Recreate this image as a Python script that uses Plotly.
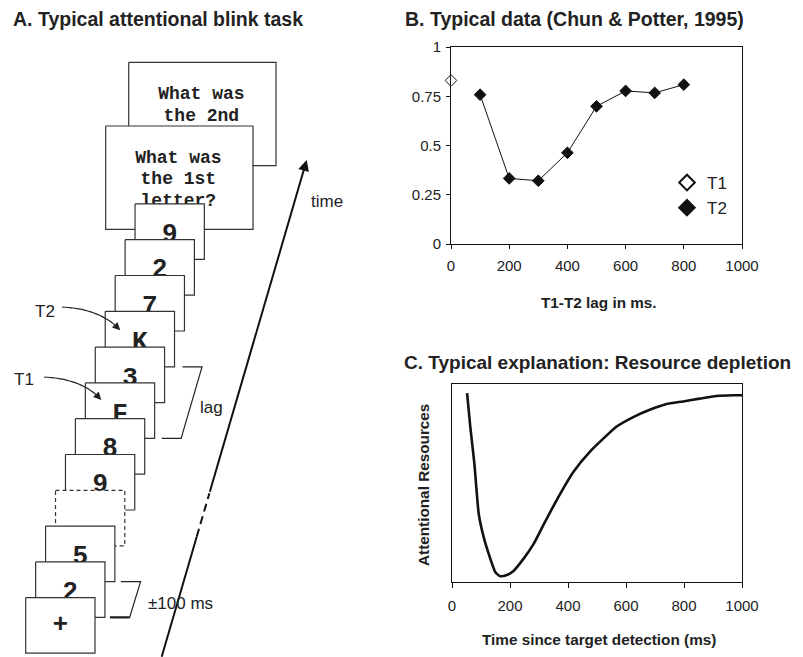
import plotly.graph_objects as go

# ---------------- data ----------------
# Panel A: RSVP stream (bottom/first -> top/last)
FRAME_LABELS = ["+", "2", "5", "", "9", "8", "F", "3", "K", "7", "2", "9"]
QUESTION_1 = ["What was", "the 1st", "letter?"]
QUESTION_2 = ["What was", "the 2nd"]
T1_INDEX = 6
T2_INDEX = 8
BLANK_INDEX = 3

# Panel B: Chun & Potter (1995)
T1_LAG = [0]
T1_ACC = [0.83]
T2_LAG = [100, 200, 300, 400, 500, 600, 700, 800]
T2_ACC = [0.758, 0.333, 0.321, 0.463, 0.699, 0.777, 0.767, 0.809]
B_YTICKS = [0, 0.25, 0.5, 0.75, 1]
B_YTICKTEXT = ["0", "0.25", "0.5", "0.75", "1"]
X_TICKS = [0, 200, 400, 600, 800, 1000]

# Panel C: resource depletion curve
C_TIME = [52, 63, 77, 92, 109, 130, 149, 166, 189, 212, 247, 281, 315, 361,
          419, 476, 568, 625, 682, 740, 797, 854, 912, 969, 1000]
C_RES = [0.954, 0.785, 0.600, 0.346, 0.228, 0.127, 0.051, 0.029, 0.035, 0.056,
         0.118, 0.191, 0.287, 0.414, 0.557, 0.659, 0.785, 0.833, 0.870, 0.899,
         0.912, 0.926, 0.939, 0.943, 0.943]

# ---------------- layout geometry / styles ----------------
VIEW_W, VIEW_H = 803, 657
OFF = 8                                # page body margin
W, H = VIEW_W - OFF, VIEW_H - OFF      # figure size so it fits the window
SANS = "Liberation Sans, Arial, sans-serif"
MONO = "Liberation Mono, Courier New, monospace"
INK = "#222222"
FRAME_LINE = "#333333"

F_X0, F_Y0 = 25.7, 597.7      # top-left of first frame (window px)
F_W, F_H = 69.3, 55.5
F_DX, F_DY = 9.94, -35.8
Q_BOXES = [(105.7, 126.0), (128.7, 62.3)]
Q_W, Q_H = 147.3, 103.3

AX = dict(xaxis="x3", yaxis="y3")


def frame_box(i):
    x0 = F_X0 + i * F_DX
    y0 = F_Y0 + i * F_DY
    return x0, y0, x0 + F_W, y0 + F_H


def rect_trace(x0, y0, x1, y1, dash="solid"):
    return go.Scatter(x=[x0, x1, x1, x0, x0], y=[y0, y0, y1, y1, y0],
                      mode="lines", fill="toself", fillcolor="white",
                      line=dict(color=FRAME_LINE, width=1.2, dash=dash),
                      hoverinfo="skip", showlegend=False, **AX)


def text_trace(xs, ys, texts, font, size):
    return go.Scatter(x=xs, y=ys, text=texts, mode="text",
                      textposition="middle center",
                      textfont=dict(family=font, size=size, color=INK, weight="bold"),
                      hoverinfo="skip", showlegend=False, **AX)


fig = go.Figure()

# --- Panel A: question screens (furthest back) ---
for (qx, qy), lines in [(Q_BOXES[1], QUESTION_2), (Q_BOXES[0], QUESTION_1)]:
    fig.add_trace(rect_trace(qx, qy, qx + Q_W, qy + Q_H))
    fig.add_trace(text_trace([qx + Q_W / 2 - 1] * len(lines),
                             [qy + 32 + k * 21.8 for k in range(len(lines))],
                             lines, MONO, 18))

# --- Panel A: stream frames, back to front ---
for i in reversed(range(len(FRAME_LABELS))):
    x0, y0, x1, y1 = frame_box(i)
    dash = "4px,3px" if i == BLANK_INDEX else "solid"
    fig.add_trace(rect_trace(x0, y0, x1, y1, dash))
    lab = FRAME_LABELS[i]
    if lab:
        font = MONO if lab.isalpha() or lab in ("3", "7") else SANS
        dy = 0 if i == 0 else 3.5
        fig.add_trace(text_trace([(x0 + x1) / 2], [(y0 + y1) / 2 + dy], [lab], font, 26))


def bracket(lower, upper, gap_lo, gap_hi, arm, width_bottom=1.2):
    lx0, ly0, lx1, ly1 = frame_box(lower)
    ux0, uy0, ux1, uy1 = frame_box(upper)
    xb0 = lx1 + gap_lo
    xt0 = ux1 + gap_hi
    fig.add_trace(go.Scatter(x=[xt0, xt0 + arm, xb0 + arm, xb0],
                             y=[uy1, uy1, ly1, ly1], mode="lines",
                             line=dict(color=INK, width=1.2),
                             hoverinfo="skip", showlegend=False, **AX))
    if width_bottom > 1.2:
        fig.add_trace(go.Scatter(x=[xb0, xb0 + arm], y=[ly1, ly1], mode="lines",
                                 line=dict(color=INK, width=width_bottom),
                                 hoverinfo="skip", showlegend=False, **AX))


# lag bracket between T1 and T2 frames
bracket(T1_INDEX, T2_INDEX, 7, 8, 19.5)
# +-100 ms bracket between frames 1 and 2
bracket(1, 2, 5, 6, 19.7, width_bottom=2.2)

# time arrow
TA0 = (161.7, 656.7)
TA1 = (306.7, 160.0)


def along(t):
    return TA0[0] + t * (TA1[0] - TA0[0]), TA0[1] + t * (TA1[1] - TA0[1])


t_d0, t_d1 = 0.242, 0.329
p0, pd0, pd1 = TA0, along(t_d0), along(t_d1)
fig.add_trace(go.Scatter(x=[p0[0], pd0[0]], y=[p0[1], pd0[1]], mode="lines",
                         line=dict(color="#111111", width=2),
                         hoverinfo="skip", showlegend=False, **AX))
fig.add_trace(go.Scatter(x=[pd0[0], pd1[0]], y=[pd0[1], pd1[1]], mode="lines",
                         line=dict(color="#111111", width=2, dash="8px,5px"),
                         hoverinfo="skip", showlegend=False, **AX))

annotations = []
annotations.append(dict(x=TA1[0], y=TA1[1], ax=pd1[0], ay=pd1[1], xref="x3", yref="y3",
                        axref="x3", ayref="y3", text="", showarrow=True,
                        arrowhead=2, arrowsize=1.1, arrowwidth=2, arrowcolor="#111111"))


# curved pointer arrows for T1/T2
def curve_arrow(start, ctrl, end):
    n = 20
    xs, ys = [], []
    for k in range(n + 1):
        t = k / n
        xs.append((1 - t) ** 2 * start[0] + 2 * (1 - t) * t * ctrl[0] + t ** 2 * end[0])
        ys.append((1 - t) ** 2 * start[1] + 2 * (1 - t) * t * ctrl[1] + t ** 2 * end[1])
    fig.add_trace(go.Scatter(x=xs[:-2], y=ys[:-2], mode="lines",
                             line=dict(color=INK, width=1.2, shape="spline"),
                             hoverinfo="skip", showlegend=False, **AX))
    annotations.append(dict(x=end[0], y=end[1], ax=xs[-3], ay=ys[-3], xref="x3", yref="y3",
                            axref="x3", ayref="y3", text="", showarrow=True,
                            arrowhead=2, arrowsize=1.3, arrowwidth=1.2, arrowcolor=INK))


t2x0, t2y0, _, _ = frame_box(T2_INDEX)
t1x0, t1y0, _, _ = frame_box(T1_INDEX)
curve_arrow((62, 307), (101, 309), (t2x0 + 15, t2y0 + 19))
curve_arrow((44, 377), (83, 379), (t1x0 + 16, t1y0 + 17))

label_font = dict(family=SANS, size=17, color=INK)
for txt, x, y in [("T2", 45, 311), ("T1", 24, 379), ("lag", 211.5, 407),
                  ("±100 ms", 180, 603), ("time", 326.5, 201)]:
    annotations.append(dict(x=x, y=y, xref="x3", yref="y3", text=txt, showarrow=False,
                            font=label_font, xanchor="center", yanchor="middle"))

# ---------------- Panel B ----------------
fig.add_trace(go.Scatter(x=T2_LAG, y=T2_ACC, mode="lines",
                         line=dict(color="#111111", width=1),
                         showlegend=False, hoverinfo="skip", xaxis="x", yaxis="y"))
fig.add_trace(go.Scatter(x=T1_LAG, y=T1_ACC, mode="markers", name="T1",
                         marker=dict(symbol="diamond", size=9, color="white",
                                     line=dict(color="#111111", width=1)),
                         cliponaxis=False, xaxis="x", yaxis="y"))
fig.add_trace(go.Scatter(x=T2_LAG, y=T2_ACC, mode="markers", name="T2",
                         marker=dict(symbol="diamond", size=9, color="#111111",
                                     line=dict(color="#111111", width=1)),
                         cliponaxis=False, xaxis="x", yaxis="y"))

# ---------------- Panel C ----------------
fig.add_trace(go.Scatter(x=C_TIME, y=C_RES, mode="lines",
                         line=dict(color="#111111", width=2.6, shape="spline", smoothing=0.5),
                         showlegend=False, hoverinfo="skip", xaxis="x2", yaxis="y2"))


def px_x(p):
    return (p - OFF) / W


def px_y(p):
    return 1 - (p - OFF) / H


axis_common = dict(showgrid=False, zeroline=False, showline=True, mirror=True,
                   linecolor="#111111", linewidth=1, automargin=False,
                   tickfont=dict(family=SANS, size=15, color=INK))

axis_title_font = dict(family=SANS, size=15.3, color=INK, weight="bold")

for txt, x, y, fs in [("A. Typical attentional blink task", 11, 18.5, 19.5),
                      ("B. Typical data (Chun &amp; Potter, 1995)", 403, 18.5, 19.5),
                      ("C. Typical explanation: Resource depletion", 402, 362, 19)]:
    annotations.append(dict(x=px_x(x), y=px_y(y), xref="paper", yref="paper", text=txt,
                            showarrow=False, xanchor="left", yanchor="middle",
                            font=dict(family=SANS, size=fs, color=INK, weight="bold")))

annotations.append(dict(x=px_x(599), y=px_y(302), xref="paper", yref="paper",
                        text="T1-T2 lag in ms.", showarrow=False,
                        font=axis_title_font, xanchor="center", yanchor="middle"))
annotations.append(dict(x=px_x(599), y=px_y(639), xref="paper", yref="paper",
                        text="Time since target detection (ms)", showarrow=False,
                        font=axis_title_font, xanchor="center", yanchor="middle"))
annotations.append(dict(x=px_x(423), y=px_y(485), xref="paper", yref="paper",
                        text="Attentional Resources", showarrow=False, textangle=-90,
                        font=axis_title_font, xanchor="center", yanchor="middle"))

fig.update_layout(
    width=W, height=H, autosize=False,
    margin=dict(l=0, r=0, t=0, b=0, pad=0, autoexpand=False),
    paper_bgcolor="white", plot_bgcolor="white",
    font=dict(family=SANS, color=INK),
    showlegend=True,
    legend=dict(x=px_x(667), y=px_y(165), xanchor="left", yanchor="top",
                bgcolor="rgba(0,0,0,0)", borderwidth=0,
                font=dict(family=SANS, size=17, color=INK),
                itemsizing="constant", tracegroupgap=0),
    xaxis=dict(domain=[px_x(451), px_x(742)], range=[0, 1000], tickvals=X_TICKS,
               ticks="outside", ticklen=4, tickcolor="#111111", anchor="y",
               ticklabelstandoff=4, **axis_common),
    yaxis=dict(domain=[px_y(244), px_y(47)], range=[0, 1], tickvals=B_YTICKS,
               ticktext=B_YTICKTEXT, ticks="outside", ticklen=4, tickcolor="#111111",
               anchor="x", ticklabelstandoff=2, **axis_common),
    xaxis2=dict(domain=[px_x(452), px_x(742)], range=[0, 1000], tickvals=X_TICKS,
                ticks="outside", ticklen=5, tickcolor="#111111", anchor="y2",
                ticklabelstandoff=5, **axis_common),
    yaxis2=dict(domain=[px_y(582), px_y(384)], range=[0, 1], showticklabels=False,
                ticks="", anchor="x2", **axis_common),
    xaxis3=dict(domain=[0, px_x(400)], range=[OFF, 400], visible=False, anchor="y3",
                fixedrange=True, automargin=False),
    yaxis3=dict(domain=[0, 1], range=[VIEW_H, OFF], visible=False, anchor="x3",
                fixedrange=True, automargin=False),
    annotations=annotations,
)

fig.write_html("out.html")
